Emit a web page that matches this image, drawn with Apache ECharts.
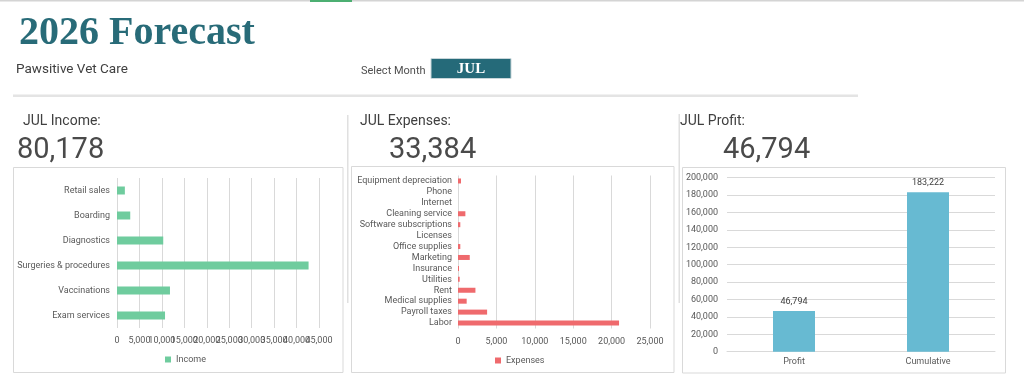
<!DOCTYPE html>
<html>
<head>
<meta charset="utf-8">
<script src="https://cdn.jsdelivr.net/npm/echarts@6/dist/echarts.min.js"></script>
<style>html,body{margin:0;padding:0;background:#fff;}#c{width:1024px;height:384px;}</style>
</head>
<body>
<div id="c"></div>
<script>
// ---- data ----
const month = 'JUL';
const incomeTotal = '80,178';
const expensesTotal = '33,384';
const profitTotal = '46,794';

const incomeCategories = ['Retail sales', 'Boarding', 'Diagnostics', 'Surgeries & procedures', 'Vaccinations', 'Exam services'];
const incomeValues = [1750, 2950, 10300, 42678, 11800, 10700];

const expenseCategories = ['Equipment depreciation', 'Phone', 'Internet', 'Cleaning service', 'Software subscriptions', 'Licenses', 'Office supplies', 'Marketing', 'Insurance', 'Utilities', 'Rent', 'Medical supplies', 'Payroll taxes', 'Labor'];
const expenseValues = [390, 0, 0, 960, 300, 0, 300, 1530, 130, 220, 2270, 1130, 3790, 20970];

const profitCategories = ['Profit', 'Cumulative'];
const profitValues = [46794, 183222];

const incomeAxisMax = 45000;

// ---- chart ----
const chart = echarts.init(document.getElementById('c'), null, {renderer: 'canvas'});
const LF = 'Roboto, "Liberation Sans", sans-serif';
const SF = '"Liberation Serif", "DejaVu Serif", serif';
const axisLab = {fontSize: 9, color: '#595959', fontFamily: LF};
const gridLine = {lineStyle: {color: '#d9d9d9', width: 1}};
const fmt = v => v.toLocaleString('en-US');

const option = {
  animation: false,
  backgroundColor: '#fff',
  graphic: [
    {type: 'rect', shape: {x: 0, y: 0, width: 1024, height: 1.5}, style: {fill: '#d4d4d4'}},
    {type: 'rect', shape: {x: 310, y: 0, width: 42, height: 2}, style: {fill: '#4caf72'}},
    {type: 'text', left: 19, top: 14, style: {text: '2026 Forecast', font: 'bold 40px ' + SF, fill: '#286b78'}},
    {type: 'text', left: 16, top: 63, style: {text: 'Pawsitive Vet Care', font: '13.5px ' + LF, fill: '#404040'}},
    {type: 'text', left: 361, top: 66, style: {text: 'Select Month', font: '11px ' + LF, fill: '#505050'}},
    {type: 'rect', shape: {x: 431, y: 58.5, width: 80, height: 20}, style: {fill: '#256a79', stroke: '#c8d6da', lineWidth: 1}},
    {type: 'text', x: 471, y: 69, style: {text: month, font: 'bold 15px ' + SF, fill: '#fff', textAlign: 'center', textVerticalAlign: 'middle'}},
    {type: 'rect', shape: {x: 13, y: 94.5, width: 845, height: 2.5}, style: {fill: '#e4e4e4'}},
    // section headers
    {type: 'text', left: 23, top: 114, style: {text: month + ' Income:', font: '14px ' + LF, fill: '#404040'}},
    {type: 'text', left: 17, top: 136, style: {text: incomeTotal, font: '29px ' + LF, fill: '#4a4a4a'}},
    {type: 'text', left: 360, top: 114, style: {text: month + ' Expenses:', font: '14px ' + LF, fill: '#404040'}},
    {type: 'text', left: 389, top: 136, style: {text: expensesTotal, font: '29px ' + LF, fill: '#4a4a4a'}},
    {type: 'text', left: 680, top: 114, style: {text: month + ' Profit:', font: '14px ' + LF, fill: '#404040'}},
    {type: 'text', left: 723, top: 136, style: {text: profitTotal, font: '29px ' + LF, fill: '#4a4a4a'}},
    // separators
    {type: 'rect', shape: {x: 347, y: 115, width: 1.5, height: 188}, style: {fill: '#e0e0e0'}},
    {type: 'rect', shape: {x: 678.5, y: 114, width: 1.5, height: 189}, style: {fill: '#e0e0e0'}},
    // chart frames
    {type: 'rect', shape: {x: 13.5, y: 167.5, width: 329.5, height: 205}, style: {fill: 'none', stroke: '#d9d9d9', lineWidth: 1}},
    {type: 'rect', shape: {x: 351.5, y: 166.5, width: 322.5, height: 206}, style: {fill: 'none', stroke: '#d9d9d9', lineWidth: 1}},
    {type: 'rect', shape: {x: 682.5, y: 167.5, width: 323, height: 205.5}, style: {fill: 'none', stroke: '#d9d9d9', lineWidth: 1}}
  ],
  legend: [
    {data: ['Income'], left: 160, top: 350, itemWidth: 6, itemHeight: 6, itemGap: 3, icon: 'rect',
     textStyle: {fontSize: 9, color: '#595959', fontFamily: LF}},
    {data: ['Expenses'], left: 490, top: 351, itemWidth: 6, itemHeight: 6, itemGap: 3, icon: 'rect',
     textStyle: {fontSize: 9, color: '#595959', fontFamily: LF}}
  ],
  grid: [
    {left: 117, top: 178, width: 202, height: 150},
    {left: 458, top: 175.5, width: 192, height: 153},
    {left: 727, top: 177.7, width: 268, height: 174}
  ],
  xAxis: [
    {gridIndex: 0, type: 'value', position: 'bottom', min: 0, max: incomeAxisMax, interval: 5000,
     axisLabel: Object.assign({}, axisLab, {formatter: fmt, margin: 8, showMaxLabel: false, showMinLabel: true}),
     axisLine: {show: false}, axisTick: {show: false}, splitLine: gridLine},
    {gridIndex: 1, type: 'value', min: 0, max: 25000, interval: 5000,
     axisLabel: Object.assign({formatter: fmt, margin: 9, showMaxLabel: true}, axisLab), axisLine: {show: false}, axisTick: {show: false}, splitLine: gridLine},
    {gridIndex: 2, type: 'category', data: profitCategories,
     axisLabel: Object.assign({margin: 6}, axisLab), axisLine: {lineStyle: {color: '#d9d9d9'}}, axisTick: {show: false}},
    // companion axis on the income grid that only prints the max tick label
    {gridIndex: 0, type: 'value', position: 'bottom', offset: 0, min: 0, max: incomeAxisMax, interval: 5000,
     axisLabel: Object.assign({}, axisLab, {margin: 8, showMaxLabel: true, showMinLabel: false,
       formatter: v => (v === incomeAxisMax ? fmt(v) : '')}),
     axisLine: {show: false}, axisTick: {show: false}, splitLine: {show: false}}
  ],
  yAxis: [
    {gridIndex: 0, type: 'category', data: incomeCategories, inverse: true,
     axisLabel: Object.assign({margin: 7}, axisLab), axisLine: {show: false}, axisTick: {show: false}},
    {gridIndex: 1, type: 'category', data: expenseCategories, inverse: true,
     axisLabel: Object.assign({margin: 6, interval: 0}, axisLab), axisLine: {show: false}, axisTick: {show: false}},
    {gridIndex: 2, type: 'value', min: 0, max: 200000, interval: 20000,
     axisLabel: Object.assign({formatter: fmt, margin: 9, showMaxLabel: true}, axisLab), axisLine: {show: false}, axisTick: {show: false}, splitLine: gridLine}
  ],
  series: [
    {name: 'Income', type: 'bar', xAxisIndex: 0, yAxisIndex: 0, data: incomeValues, barWidth: 8,
     itemStyle: {color: '#6fcc9e'}},
    {name: 'Expenses', type: 'bar', xAxisIndex: 1, yAxisIndex: 1, data: expenseValues, barWidth: 5,
     itemStyle: {color: '#ef6a6d'}},
    {name: 'Profit', type: 'bar', xAxisIndex: 2, yAxisIndex: 2, data: profitValues, barWidth: 42,
     itemStyle: {color: '#67bad2'},
     label: {show: true, position: 'top', distance: 5, formatter: p => fmt(p.value), fontSize: 9, color: '#404040', fontFamily: LF}}
  ]
};
chart.setOption(option);
</script>
</body>
</html>
